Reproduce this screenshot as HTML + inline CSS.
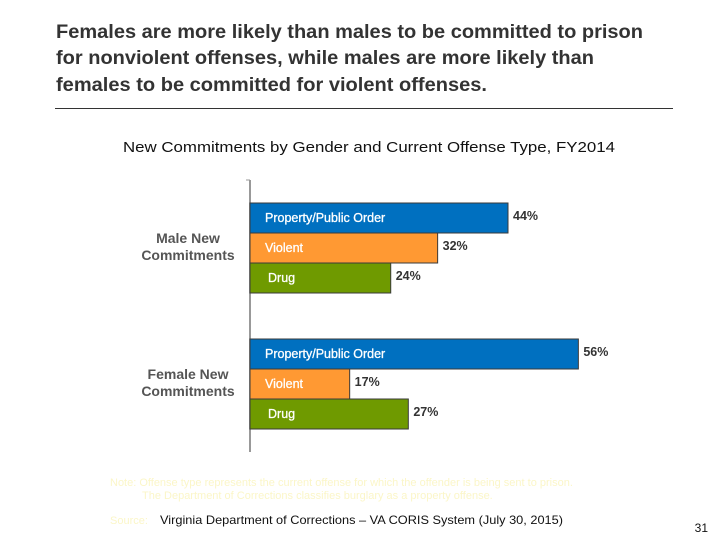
<!DOCTYPE html>
<html><head><meta charset="utf-8"><style>
body{margin:0;background:#fff;}
svg{display:block;font-family:"Liberation Sans",Arial,sans-serif;}
</style></head><body>
<svg id="chart" width="720" height="540" viewBox="0 0 720 540">
<g font-size="19" font-weight="bold" fill="#333">
<text x="56" y="38" textLength="587" lengthAdjust="spacingAndGlyphs">Females are more likely than males to be committed to prison</text>
<text x="56" y="64" textLength="538" lengthAdjust="spacingAndGlyphs">for nonviolent offenses, while males are more likely than</text>
<text x="56" y="91" textLength="431" lengthAdjust="spacingAndGlyphs">females to be committed for violent offenses.</text>
</g>
<line x1="55" y1="108.5" x2="673" y2="108.5" stroke="#333" stroke-width="1"/>
<text x="369" y="152" text-anchor="middle" font-size="14.5" fill="#111" textLength="492" lengthAdjust="spacingAndGlyphs">New Commitments by Gender and Current Offense Type, FY2014</text>
<line x1="250" y1="180" x2="250" y2="452" stroke="#999" stroke-width="2"/>
<line x1="246" y1="180" x2="250" y2="180" stroke="#999" stroke-width="1"/>
<g id="bars"></g>
<g font-size="11" fill="#fbf6c8">
<text x="110" y="486">Note:  Offense type represents the current offense for which the offender is being sent to prison.</text>
<text x="142" y="499">The Department of Corrections classifies burglary as a property offense.</text>
<text x="110" y="524">Source:</text>
</g>
<text x="160" y="524" font-size="12" fill="#111" textLength="403" lengthAdjust="spacingAndGlyphs">Virginia Department of Corrections – VA CORIS System (July 30, 2015)</text>
<text x="708" y="532" text-anchor="end" font-size="12" fill="#111">31</text>
</svg>
<script>
const groups = ["Male New|Commitments", "Female New|Commitments"];
const categories = ["Property/Public Order", "Violent", "Drug"];
const maleValues = [44, 32, 24];
const femaleValues = [56, 17, 27];
const colors = ["#0070c0", "#ff9933", "#6f9a00"];
const series = [maleValues, femaleValues];
const NS = "http://www.w3.org/2000/svg";
const x0 = 250, pxPer = 258/44;
const xs = v => x0 + v*pxPer;
const groupTop = [203, 339], barH = 30;
const g = document.getElementById("bars");
function mk(tag, attrs){const e=document.createElementNS(NS,tag);for(const k in attrs)e.setAttribute(k,attrs[k]);return e;}
series.forEach((vals, gi) => {
  const lines = groups[gi].split("|");
  const gl = mk("text",{x:188,y:groupTop[gi]+40,"text-anchor":"middle","font-size":14,"font-weight":"bold",fill:"#555"});
  
  
  lines.forEach((l,i)=>{const t=mk("tspan",{x:188,dy:i?17:0});t.textContent=l;gl.appendChild(t);});
  g.appendChild(gl);
  vals.forEach((v, ci) => {
    const y = groupTop[gi] + ci*barH;
    const r = mk("rect",{x:x0,y:y,width:xs(v)-x0,height:barH,fill:colors[ci],stroke:"#3a3a3a","stroke-width":1});
    
    
    g.appendChild(r);
    const lab = mk("text",{x:x0+15+(ci==2?3:0),y:y+barH/2+4,"font-size":12.5,fill:"#fff","stroke":"#fff","stroke-width":0.3});
    
    
    lab.textContent = categories[ci];
    g.appendChild(lab);
    const vl = mk("text",{x:xs(v)+5,y:y+barH/2+2,"font-size":12.5,"font-weight":"bold",fill:"#333"});
    
    
    vl.textContent = v + "%";
    g.appendChild(vl);
  });
});
</script>
</body></html>
